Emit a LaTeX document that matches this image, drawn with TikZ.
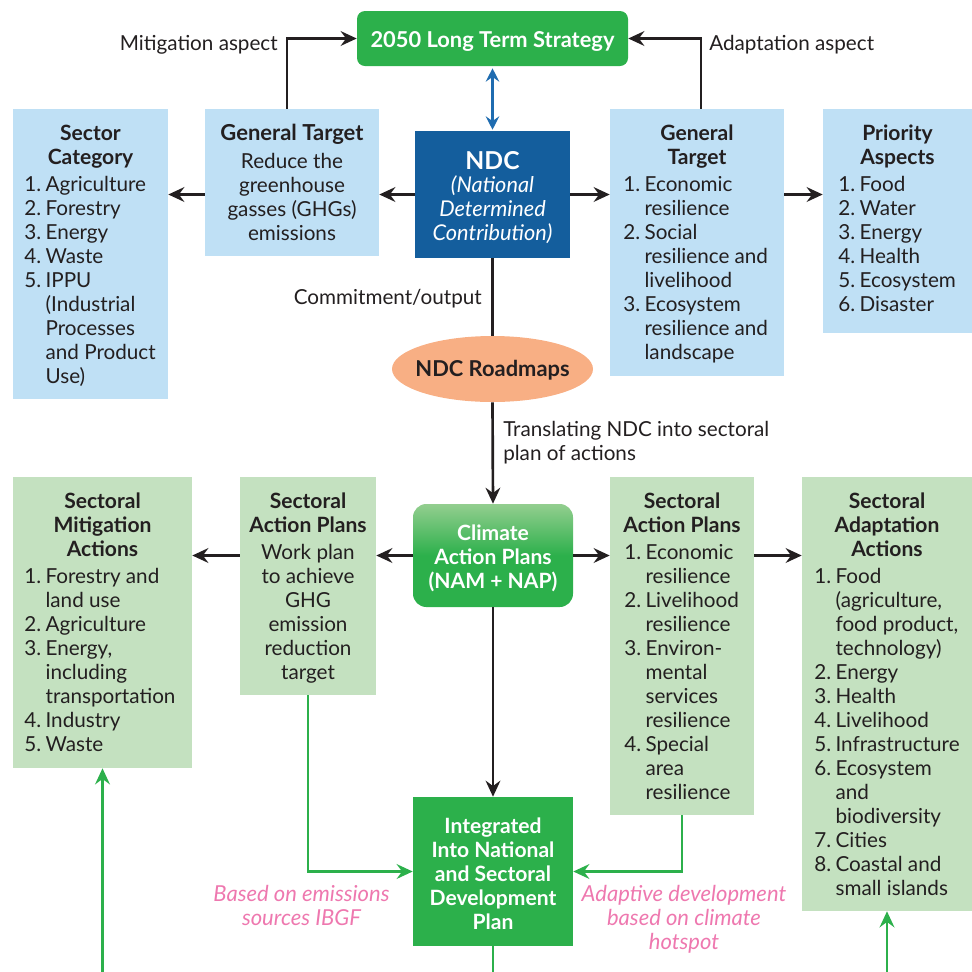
\documentclass[tikz,border=0pt]{standalone}
\usepackage{fontspec}
\setmainfont{Lato}
\usetikzlibrary{arrows.meta,fit,shapes.geometric,calc}
\definecolor{dk}{HTML}{231F20}
\definecolor{ngreen}{HTML}{2CB04B}
\definecolor{lgreen}{HTML}{C4E1C0}
\definecolor{lblue}{HTML}{BFE0F5}
\definecolor{nblue}{HTML}{145E9D}
\definecolor{aro}{HTML}{1F6CB0}
\definecolor{orng}{HTML}{F8AF84}
\definecolor{pnk}{HTML}{EE78AF}
\definecolor{captop}{HTML}{93CE8F}
\newcommand\bodyf{\fontsize{15.5pt}{18pt}\selectfont}
\newcommand\boldf{\fontsize{15.8pt}{18pt}\selectfont\bfseries}
\newcommand\mycenter[1]{\begin{tabular}{@{}c@{}}#1\end{tabular}}
\newcommand\mylist[1]{\begin{tabular}{@{}p{16pt}@{}l@{}}#1\end{tabular}}
\newcommand\myleft[1]{\begin{tabular}{@{}l@{}}#1\end{tabular}}
\begin{document}
\begin{tikzpicture}[x=0.75pt,y=-0.75pt,
  box/.style={inner sep=0pt, draw=none},
  lb/.style={box, fill=lblue},
  lg/.style={box, fill=lgreen},
  txt/.style={inner sep=0pt, text=dk, font=\bodyf},
  ttl/.style={inner sep=0pt, text=dk, font=\boldf},
  wtxt/.style={inner sep=0pt, text=white, font=\boldf},
  pk/.style={inner sep=0pt, text=pnk, font=\fontsize{16.5pt}{18pt}\selectfont\itshape},
  ln/.style={draw=dk, line width=2pt},
  arr/.style={ln, -{Stealth[length=12pt,width=11pt,inset=4pt]}},
  barr/.style={draw=aro, line width=1.6pt, {Stealth[length=10pt,width=10pt,inset=3.5pt]}-{Stealth[length=10pt,width=10pt,inset=3.5pt]}},
  gln/.style={draw=ngreen, line width=2pt},
  garr/.style={gln, -{Stealth[length=12pt,width=11pt,inset=4pt]}}
]
\useasboundingbox (0,0) rectangle (972,972);
\coordinate (bot) at (0,972);
% boxes
\node[box, fill=ngreen, rounded corners=6pt, fit={(357,11)(628,66)}] (lts) {};
\node[lb, fit={(13,109)(168,399)}] (sc) {};
\node[lb, fit={(205,109)(379,256)}] (gtl) {};
\node[box, fill=nblue, fit={(415,131)(570,258)}] (ndc) {};
\node[lb, fit={(610,109)(784,376)}] (gtr) {};
\node[lb, fit={(823,109)(972,333)}] (pa) {};
\node[ellipse, fill=orng, inner sep=0pt, minimum width=150.75pt, minimum height=49.5pt] (rm) at (492.5,369) {};
\node[box, top color=captop, bottom color=ngreen, middle color=ngreen, rounded corners=10pt, fit={(413,504)(573,607)}] (cap) {};
\node[lg, fit={(13,477)(192,768)}] (sma) {};
\node[lg, fit={(240,477)(376,695)}] (sapl) {};
\node[lg, fit={(610,477)(754,815)}] (sapr) {};
\node[lg, fit={(802,477)(972,911)}] (saa) {};
\node[box, fill=ngreen, fit={(413,797)(573,946)}] (integ) {};
% texts
\node[inner sep=0pt, text=white, font=\fontsize{16.4pt}{18pt}\selectfont\bfseries, anchor=base] (ltsT) at (492.5,47) {2050 Long Term Strategy};
\node[txt, anchor=base east] (mitL) at (278,50) {Mitigation aspect};
\node[txt, anchor=base west] (adpL) at (709,50) {Adaptation aspect};
\node[ttl, anchor=north] (scT) at (90.5,123) {\mycenter{Sector\\Category}};
\node[txt, anchor=north west] (scL) at (24,174) {\mylist{1.&Agriculture\\2.&Forestry\\3.&Energy\\4.&Waste\\5.&IPPU\\&(Industrial\\&Processes\\&and Product\\&Use)}};
\node[ttl, font=\fontsize{16.5pt}{18pt}\selectfont\bfseries, anchor=north] (gtlT) at (292,123) {\mycenter{General Target}};
\node[txt, anchor=north] (gtlB) at (292,151) {\mycenter{Reduce the\\greenhouse\\gasses (GHGs)\\emissions}};
\node[inner sep=0pt, text=white, font=\fontsize{18.5pt}{22pt}\selectfont\bfseries, anchor=base] (ndcT) at (492.5,169) {NDC};
\node[inner sep=0pt, text=white, font=\fontsize{16.3pt}{18pt}\selectfont\itshape, anchor=north] (ndcB) at (492.5,175) {\mycenter{(National\\Determined\\Contribution)}};
\node[ttl, anchor=north] (gtrT) at (697,123) {\mycenter{General\\Target}};
\node[txt, anchor=north west] (gtrL) at (623,174) {\mylist{1.&Economic\\&resilience\\2.&Social\\&resilience and\\&livelihood\\3.&Ecosystem\\&resilience and\\&landscape}};
\node[ttl, anchor=north] (paT) at (897.5,123) {\mycenter{Priority\\Aspects}};
\node[txt, anchor=north west] (paL) at (838,174) {\mylist{1.&Food\\2.&Water\\3.&Energy\\4.&Health\\5.&Ecosystem\\6.&Disaster}};
\node[txt, anchor=base east] (comL) at (482,304) {Commitment/output};
\node[ttl, font=\fontsize{16.4pt}{18pt}\selectfont\bfseries, anchor=base] (rmT) at (492.5,376) {NDC Roadmaps};
\node[txt, anchor=north west] (trL) at (503,419) {\myleft{Translating NDC into sectoral\\plan of actions}};
\node[wtxt, anchor=north] (capT) at (493,523) {\mycenter{Climate\\Action Plans\\(NAM + NAP)}};
\node[ttl, anchor=north] (smaT) at (102.5,491) {\mycenter{Sectoral\\Mitigation\\Actions}};
\node[txt, anchor=north west] (smaL) at (24,566) {\mylist{1.&Forestry and\\&land use\\2.&Agriculture\\3.&Energy,\\&including\\&transportation\\4.&Industry\\5.&Waste}};
\node[ttl, anchor=north] (saplT) at (308,491) {\mycenter{Sectoral\\Action Plans}};
\node[txt, anchor=north] (saplB) at (308,542) {\mycenter{Work plan\\to achieve\\GHG\\emission\\reduction\\target}};
\node[ttl, anchor=north] (saprT) at (682,491) {\mycenter{Sectoral\\Action Plans}};
\node[txt, anchor=north west] (saprL) at (624,542.5) {\mylist{1.&Economic\\&resilience\\2.&Livelihood\\&resilience\\3.&Environ-\\&mental\\&services\\&resilience\\4.&Special\\&area\\&resilience}};
\node[ttl, anchor=north] (saaT) at (887,491) {\mycenter{Sectoral\\Adaptation\\Actions}};
\node[txt, anchor=north west] (saaL) at (814,566) {\mylist{1.&Food\\&(agriculture,\\&food product,\\&technology)\\2.&Energy\\3.&Health\\4.&Livelihood\\5.&Infrastructure\\6.&Ecosystem\\&and\\&biodiversity\\7.&Cities\\8.&Coastal and\\&small islands}};
\node[wtxt, anchor=north] (integT) at (493,816) {\mycenter{Integrated\\Into National\\and Sectoral\\Development\\Plan}};
\node[pk, anchor=north] (pkL) at (301.5,884) {\mycenter{Based on emissions\\sources IBGF}};
\node[pk, anchor=north] (pkR) at (684,884) {\mycenter{Adaptive development\\based on climate\\hotspot}};
% connectors
\draw[arr] ([xshift=-3.75pt]gtl.north) |- (lts.west);
\draw[arr] ([xshift=3pt]gtr.north) |- (lts.east);
\draw[barr, shorten <=1.5pt, shorten >=0.75pt] (lts.south) -- (ndc.north);
\draw[arr] (ndc.west) -- (ndc.west -| gtl.east);
\draw[arr] (ndc.west -| gtl.west) -- (ndc.west -| sc.east);
\draw[arr] (ndc.east) -- (ndc.east -| gtr.west);
\draw[arr] (ndc.east -| gtr.east) -- (ndc.east -| pa.west);
\draw[ln] (ndc.south) -- (rm.north);
\draw[arr] (rm.south) -- (cap.north);
\draw[arr] (cap.west) -- (cap.west -| sapl.east);
\draw[arr] (cap.west -| sapl.west) -- (cap.west -| sma.east);
\draw[arr] (cap.east) -- (cap.east -| sapr.west);
\draw[arr] (cap.east -| sapr.east) -- (cap.east -| saa.west);
\draw[arr] (cap.south) -- (integ.north);
\draw[garr] (sapl.south) |- (integ.west);
\draw[garr] (sapr.south) |- (integ.east);
\draw[gln] (integ.south) -- (integ.south |- bot);
\draw[garr] (sma.south |- bot) -- (sma.south);
\draw[garr] (saa.south |- bot) -- (saa.south);
\end{tikzpicture}
\end{document}
